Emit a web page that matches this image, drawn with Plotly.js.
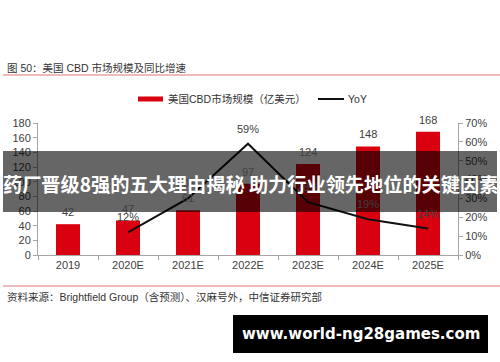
<!DOCTYPE html>
<html><head><meta charset="utf-8">
<script src="https://cdn.plot.ly/plotly-3.0.1.min.js"></script>
<style>html,body{margin:0;padding:0;background:#fff}#c{width:500px;height:362px}</style>
</head><body><div id="c"></div>
<script>
var categories = ["2019","2020E","2021E","2022E","2023E","2024E","2025E"];
var marketSize = [42, 47, 61, 97, 124, 148, 168];
var yoyCats = ["2020E","2021E","2022E","2023E","2024E","2025E"];
var yoy = [0.12, 0.30, 0.59, 0.28, 0.19, 0.14];
var yoyLabels = ["12%","30%","59%","28%","19%","14%"];
var leftTicks = [0,20,40,60,80,100,120,140,160,180];
var rightTicks = [0,0.1,0.2,0.3,0.4,0.5,0.6,0.7];
var rightTickText = ["0%","10%","20%","30%","40%","50%","60%","70%"];

var FONT = "Liberation Sans, Arial, sans-serif";
var MIX = "Liberation Sans, Arial, Noto Sans CJK SC, sans-serif";
var CJK = "Noto Sans CJK SC, sans-serif";
var red = "#d9000f";
var txt = "#404040";

var bars = {
  type: "bar", x: categories, y: marketSize, name: "美国CBD市场规模（亿美元）",
  marker: {color: red}, width: 0.4, hoverinfo: "none"
};
var line = {
  type: "scatter", mode: "lines", x: yoyCats, y: yoy, yaxis: "y2", name: "YoY",
  line: {color: "#111", width: 2}, hoverinfo: "none"
};

// pixel helpers (plot area: x 38..458, y 123..255)
function px(x){ return (x-38)/420; }
function py(y){ return (255-y)/132; }

var annotations = [];
categories.forEach(function(c, i){
  annotations.push({xref: "x", yref: "y", x: i, y: marketSize[i], yshift: 12, showarrow: false,
    xanchor: "center", yanchor: "middle", text: String(marketSize[i]),
    font: {family: FONT, size: 11, color: txt}});
});
yoyCats.forEach(function(c, i){
  annotations.push({xref: "x", yref: "y2", x: categories.indexOf(c), y: yoy[i], yshift: 15, showarrow: false,
    xanchor: "center", yanchor: "middle", text: yoyLabels[i],
    font: {family: FONT, size: 11, color: txt}});
});
annotations = annotations.concat([
  {xref: "paper", yref: "paper", x: px(5), y: py(68), xanchor: "left", yanchor: "middle", showarrow: false,
   text: "图 50：美国 CBD 市场规模及同比增速", font: {family: MIX, size: 10.5, color: "#333"}},
  {xref: "paper", yref: "paper", x: px(166), y: py(99), xanchor: "left", yanchor: "middle", showarrow: false,
   text: "美国CBD市场规模（亿美元）", font: {family: MIX, size: 10.5, color: "#333"}},
  {xref: "paper", yref: "paper", x: px(346), y: py(99), xanchor: "left", yanchor: "middle", showarrow: false,
   text: "YoY", font: {family: FONT, size: 10.5, color: "#333"}},
  {xref: "paper", yref: "paper", x: px(5), y: py(297), xanchor: "left", yanchor: "middle", showarrow: false,
   text: "资料来源：Brightfield Group（含预测）、汉麻号外，中信证券研究部", font: {family: MIX, size: 10.5, color: "#333"}},
  {xref: "paper", yref: "paper", x: px(250), y: py(184), xanchor: "center", yanchor: "middle", showarrow: false,
   text: "<b>药厂晋级8强的五大理由揭秘 助力行业领先地位的关键因素</b>", font: {family: CJK, size: 19.2, color: "#fff"}},
  {xref: "paper", yref: "paper", x: px(361), y: py(334), xanchor: "center", yanchor: "middle", showarrow: false,
   text: "<b>www.world-ng28games.com</b>", font: {family: "DejaVu Sans, sans-serif", size: 15, color: "#fff"}}
]);

var layout = {
  width: 500, height: 362,
  margin: {l: 38, r: 42, t: 123, b: 107},
  paper_bgcolor: "#fff", plot_bgcolor: "#fff",
  showlegend: false,
  bargap: 0.6,
  font: {family: FONT, size: 11, color: txt},
  xaxis: {
    type: "category", categoryorder: "array", categoryarray: categories, range: [-0.5, 6.5],
    showline: true, linecolor: "#a6a6a6", linewidth: 1,
    ticks: "outside", tickson: "boundaries", ticklen: 4, tickcolor: "#a6a6a6",
    tickfont: {family: FONT, size: 11, color: txt}, showgrid: false, zeroline: false
  },
  yaxis: {
    range: [0, 180], tickvals: leftTicks, ticktext: leftTicks.map(String),
    showline: true, linecolor: "#a6a6a6", ticks: "outside", ticklen: 4, tickcolor: "#a6a6a6",
    showgrid: false, zeroline: false, tickfont: {family: FONT, size: 11, color: txt}
  },
  yaxis2: {
    overlaying: "y", side: "right", range: [0, 0.7], tickvals: rightTicks, ticktext: rightTickText,
    showline: true, linecolor: "#a6a6a6", ticks: "outside", ticklen: 4, tickcolor: "#a6a6a6",
    showgrid: false, zeroline: false, tickfont: {family: FONT, size: 11, color: txt}
  },
  shapes: [
    {type: "line", xref: "paper", yref: "paper", x0: px(3), x1: px(500), y0: py(75), y1: py(75), line: {color: "#e9a3a3", width: 1.5}},
    {type: "line", xref: "paper", yref: "paper", x0: px(3), x1: px(500), y0: py(286), y1: py(286), line: {color: "#e9a3a3", width: 1.5}},
    {type: "rect", xref: "paper", yref: "paper", x0: px(138), x1: px(163), y0: py(101.5), y1: py(96.5), fillcolor: red, line: {width: 0}},
    {type: "line", xref: "paper", yref: "paper", x0: px(318), x1: px(344), y0: py(99), y1: py(99), line: {color: "#111", width: 2}},
    {type: "rect", xref: "paper", yref: "paper", layer: "above", x0: px(3), x1: px(497), y0: py(212), y1: py(151), fillcolor: "rgba(0,0,0,0.6)", line: {width: 0}},
    {type: "rect", xref: "paper", yref: "paper", layer: "above", x0: px(233), x1: px(488), y0: py(353), y1: py(315), fillcolor: "#000", line: {width: 0}}
  ],
  annotations: annotations
};
Plotly.newPlot("c", [bars, line], layout, {displayModeBar: false, staticPlot: true});
</script></body></html>
